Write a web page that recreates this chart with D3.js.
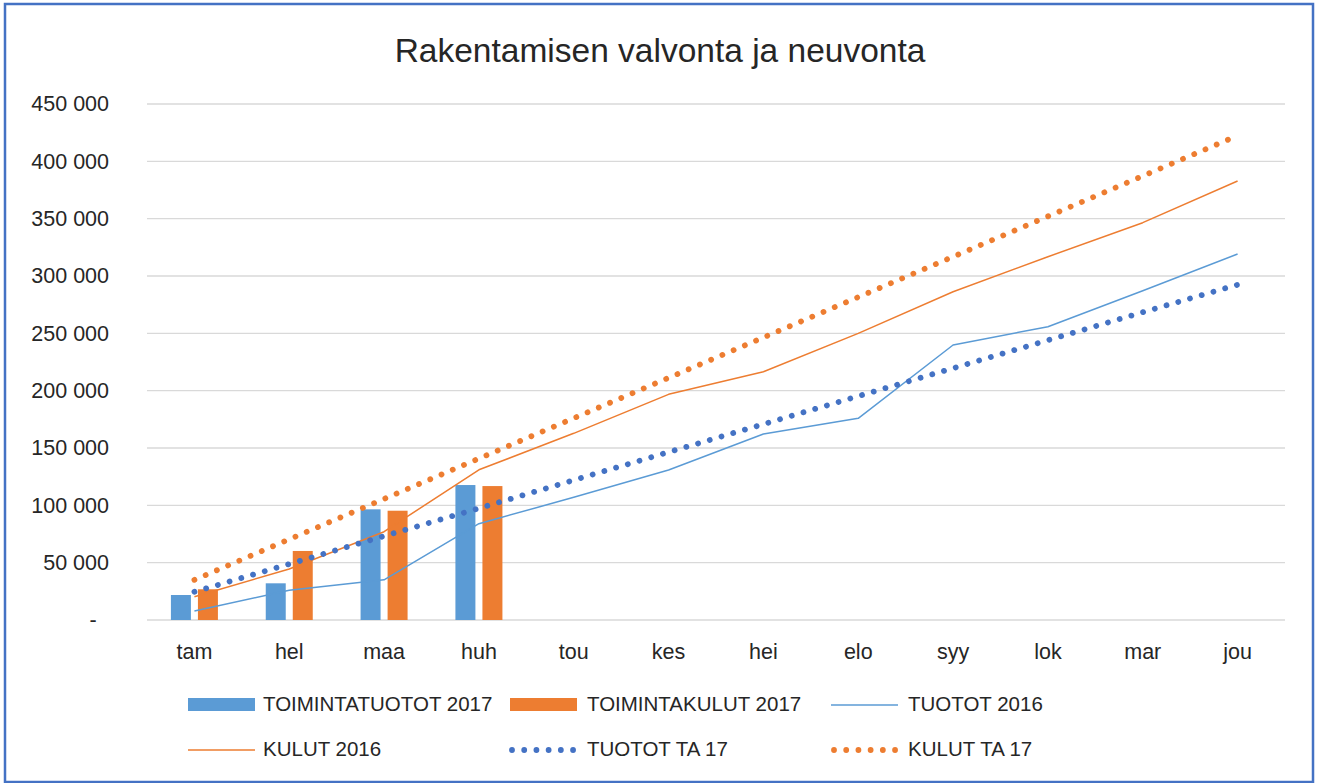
<!DOCTYPE html>
<html>
<head>
<meta charset="utf-8">
<script src="https://cdn.jsdelivr.net/npm/d3@7"></script>
<style>
  html, body { margin: 0; padding: 0; background: #fff; }
  svg { display: block; font-family: "Liberation Sans", Arial, sans-serif; }
</style>
</head>
<body>
<svg id="chart" width="1317" height="783"></svg>
<script>
const months = ['tam', 'hel', 'maa', 'huh', 'tou', 'kes', 'hei', 'elo', 'syy', 'lok', 'mar', 'jou'];
const yTicks = [0, 50000, 100000, 150000, 200000, 250000, 300000, 350000, 400000, 450000];

// bars (2017 actuals, only first four months)
const toimintatuotot2017 = [21800, 32000, 96500, 117700];
const toimintakulut2017 = [26800, 60200, 95300, 116800];

// lines
const tuotot2016 = [7800, 26000, 35000, 84000, 107000, 130800, 162200, 175900, 239800, 255800, 287200, 319200];
const kulut2016 = [20300, 44500, 77000, 131000, 162800, 196800, 216500, 250000, 286300, 316800, 346500, 382800];
const tuototTa17 = [24600, 48800, 73200, 97400, 122000, 146400, 170800, 195200, 219600, 244000, 268400, 292400];
const kulutTa17 = [35000, 70400, 105600, 140800, 176000, 211200, 246400, 281600, 316800, 352000, 387200, 422400];

const BLUE = '#5B9BD5';
const ORANGE = '#ED7D31';
const DARKBLUE = '#4472C4';
const TEXT = '#262626';

const svg = d3.select('#chart');

// outer frame
svg.append('rect')
  .attr('x', 5).attr('y', 4)
  .attr('width', 1308).attr('height', 778)
  .attr('fill', 'none')
  .attr('stroke', DARKBLUE)
  .attr('stroke-width', 2.5);

// title
svg.append('text')
  .attr('x', 660).attr('y', 62)
  .attr('text-anchor', 'middle')
  .attr('font-size', 33.5)
  .attr('fill', TEXT)
  .text('Rakentamisen valvonta ja neuvonta');

const x = d3.scaleBand().domain(months).range([147, 1285]);
const y = d3.scaleLinear().domain([0, 450000]).range([620, 104]);

// grid
svg.append('g')
  .selectAll('line')
  .data(yTicks)
  .join('line')
  .attr('x1', 147).attr('x2', 1285)
  .attr('y1', d => y(d)).attr('y2', d => y(d))
  .attr('stroke', '#D9D9D9')
  .attr('stroke-width', 1.3);

// y axis labels
const fmt = d => d === 0 ? '-' : d3.format(',')(d).replace(/,/g, ' ');
svg.append('g')
  .attr('transform', 'translate(109,0)')
  .call(d3.axisLeft(y).tickValues(yTicks).tickFormat(fmt).tickSize(0).tickPadding(0))
  .call(sel => sel.select('.domain').remove())
  .call(sel => sel.selectAll('.tick text')
    .attr('font-family', '"Liberation Sans", Arial, sans-serif')
    .attr('font-size', 21.5)
    .attr('fill', TEXT))
  .call(sel => sel.selectAll('.tick').filter(d => d === 0).select('text')
    .attr('text-anchor', 'middle').attr('x', -16));

// x axis labels
svg.append('g')
  .attr('transform', 'translate(0,644)')
  .call(d3.axisBottom(x).tickSize(0).tickPadding(0))
  .call(sel => sel.select('.domain').remove())
  .call(sel => sel.selectAll('.tick text')
    .attr('font-family', '"Liberation Sans", Arial, sans-serif')
    .attr('font-size', 21.5)
    .attr('fill', TEXT));

// bars
const barSeries = [
  { name: 'TOIMINTATUOTOT 2017', color: BLUE, values: toimintatuotot2017 },
  { name: 'TOIMINTAKULUT 2017', color: ORANGE, values: toimintakulut2017 },
];
const groupW = 47;
const x1 = d3.scaleBand().domain(barSeries.map(s => s.name)).range([0, groupW]).paddingInner(0.26);

barSeries.forEach(s => {
  svg.append('g')
    .selectAll('rect')
    .data(s.values.map((v, i) => ({ m: months[i], v })))
    .join('rect')
    .attr('x', d => x(d.m) + (x.bandwidth() - groupW) / 2 + x1(s.name))
    .attr('width', x1.bandwidth())
    .attr('y', d => y(d.v))
    .attr('height', d => y(0) - y(d.v))
    .attr('fill', s.color);
});

// lines
const lineSeries = [
  { name: 'TUOTOT 2016', color: BLUE, values: tuotot2016, dotted: false },
  { name: 'KULUT 2016', color: ORANGE, values: kulut2016, dotted: false },
  { name: 'TUOTOT TA 17', color: DARKBLUE, values: tuototTa17, dotted: true },
  { name: 'KULUT TA 17', color: ORANGE, values: kulutTa17, dotted: true },
];
const line = d3.line()
  .x((d, i) => x(months[i]) + x.bandwidth() / 2)
  .y(d => y(d));

function styleLine(sel, s) {
  if (s.dotted) {
    sel.attr('stroke-width', 5.8)
      .attr('stroke-linecap', 'round')
      .attr('stroke-dasharray', '0.01 12.2');
  } else {
    sel.attr('stroke-width', 1.5)
      .attr('stroke-linejoin', 'round');
  }
  return sel;
}

lineSeries.forEach(s => {
  svg.append('path')
    .datum(s.values)
    .attr('fill', 'none')
    .attr('stroke', s.color)
    .attr('d', line)
    .call(styleLine, s);
});

// legend
const legendItems = [
  { s: barSeries[0], type: 'bar', sx: 188, tx: 263, cy: 704 },
  { s: barSeries[1], type: 'bar', sx: 510, tx: 587, cy: 704 },
  { s: lineSeries[0], type: 'line', sx: 831, tx: 908, cy: 704 },
  { s: lineSeries[1], type: 'line', sx: 188, tx: 263, cy: 749 },
  { s: lineSeries[2], type: 'line', sx: 509, tx: 587, cy: 749 },
  { s: lineSeries[3], type: 'line', sx: 831, tx: 908, cy: 749 },
];
const legend = svg.append('g');
legendItems.forEach(it => {
  if (it.type === 'bar') {
    legend.append('rect')
      .attr('x', it.sx).attr('y', it.cy - 6)
      .attr('width', 67).attr('height', 13)
      .attr('fill', it.s.color);
  } else {
    legend.append('line')
      .attr('x1', it.sx + (it.s.dotted ? 3 : 0)).attr('x2', it.sx + (it.s.dotted ? 66 : 67))
      .attr('y1', it.cy + 1).attr('y2', it.cy + 1)
      .attr('stroke', it.s.color)
      .call(styleLine, it.s);
  }
  legend.append('text')
    .attr('x', it.tx).attr('y', it.cy)
    .attr('dy', '0.35em')
    .attr('font-size', 20.5)
    .attr('fill', TEXT)
    .text(it.s.name);
});
</script>
</body>
</html>
